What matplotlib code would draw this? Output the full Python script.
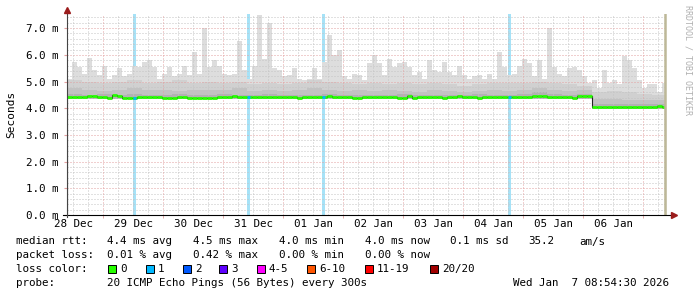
import numpy as np
import matplotlib
matplotlib.use('Agg')
import matplotlib.pyplot as plt
from matplotlib.patches import Rectangle

W, H = 697, 297
plt.rcParams['font.family'] = ['DejaVu Sans Mono']

# time in days since 28 Dec 00:00, smoke stored in 2 hour bins
t_start = 0.4
t_end = 10.4
t_now = 10.371
bin_days = 1 / 12

day_labels = ['28 Dec', '29 Dec', '30 Dec', '31 Dec', '01 Jan',
              '02 Jan', '03 Jan', '04 Jan', '05 Jan', '06 Jan']
y_ticks = [0, 1, 2, 3, 4, 5, 6, 7]
y_labels = ['0.0 m', '1.0 m', '2.0 m', '3.0 m', '4.0 m', '5.0 m', '6.0 m', '7.0 m']

# top of the smoke (slowest ping), ms, per 2h bin
smoke_max = [
    5.1, 5.75, 5.55, 5.3, 5.9, 5.45, 5.25, 5.6, 5.1, 5.25,
    5.5, 5.2, 5.3, 5.6, 5.55, 5.75, 5.8, 5.55, 5.1, 5.3,
    5.55, 5.2, 5.3, 5.6, 5.25, 6.1, 5.3, 7.0, 5.55, 5.8,
    5.6, 5.3, 5.25, 5.3, 6.5, 5.45, 5.1, 5.6, 7.5, 5.85,
    7.2, 5.5, 5.45, 5.2, 5.25, 5.5, 5.1, 5.05, 5.1, 5.5,
    5.1, 5.75, 6.75, 6.0, 6.2, 5.2, 5.1, 5.3, 5.25, 5.05,
    5.7, 6.0, 5.7, 5.25, 5.85, 5.55, 5.7, 5.75, 5.55, 5.25,
    5.35, 5.1, 5.8, 5.45, 5.35, 5.75, 5.35, 5.25, 5.6, 5.25,
    5.1, 5.2, 5.25, 5.1, 5.3, 5.1, 6.1, 5.55, 5.25, 5.3,
    5.6, 5.85, 5.7, 5.2, 5.8, 5.1, 7.0, 5.55, 5.3, 5.2,
    5.5, 5.55, 5.45, 5.2, 4.95, 5.05, 4.75, 5.45, 4.95, 5.05,
    4.9, 5.95, 5.8, 5.5, 5.05, 4.75, 4.9, 4.9, 4.6, 4.95,
]

# inner smoke layers, ms, per 6h block
smoke_p85 = [
    5.05, 5.0, 4.95, 5.0, 5.05, 4.95, 5.0, 5.05, 4.95, 5.0,
    4.95, 5.0, 4.9, 4.95, 4.9, 4.95, 5.05, 5.0, 4.95, 4.9,
    4.95, 4.9, 4.95, 4.9, 4.95, 4.9, 4.85, 4.9, 4.95, 4.95,
    4.95, 5.0, 4.95, 4.9, 4.85, 4.6, 4.65, 4.6, 4.55, 4.5,
]
smoke_p70 = [
    4.75, 4.7, 4.65, 4.7, 4.75, 4.7, 4.7, 4.65, 4.7, 4.7,
    4.7, 4.75, 4.65, 4.7, 4.65, 4.7, 4.75, 4.7, 4.65, 4.7,
    4.65, 4.7, 4.65, 4.6, 4.7, 4.65, 4.6, 4.65, 4.7, 4.65,
    4.7, 4.75, 4.7, 4.65, 4.7, 4.35, 4.35, 4.3, 4.3, 4.3,
]
smoke_p55 = [
    4.55, 4.5, 4.55, 4.5, 4.55, 4.5, 4.5, 4.55, 4.5, 4.5,
    4.55, 4.5, 4.5, 4.55, 4.5, 4.5, 4.5, 4.55, 4.5, 4.5,
    4.5, 4.5, 4.55, 4.5, 4.5, 4.5, 4.5, 4.55, 4.5, 4.5,
    4.55, 4.6, 4.55, 4.5, 4.55, 4.15, 4.15, 4.15, 4.15, 4.15,
]
smoke_min = [
    4.34, 4.34, 4.34, 4.34, 4.34, 4.34, 4.34, 4.34, 4.34, 4.34,
    4.34, 4.34, 4.34, 4.34, 4.34, 4.34, 4.34, 4.34, 4.34, 4.34,
    4.34, 4.34, 4.34, 4.34, 4.34, 4.34, 4.34, 4.34, 4.34, 4.34,
    4.34, 4.34, 4.34, 4.34, 4.34, 3.98, 3.98, 3.98, 3.98, 3.98,
]

# median rtt, ms, per 2h bin
median = [
    4.43, 4.43, 4.43, 4.43, 4.44, 4.44, 4.43, 4.41, 4.40, 4.48,
    4.46, 4.40, 4.40, 4.40, 4.41, 4.42, 4.42, 4.42, 4.42, 4.39,
    4.39, 4.40, 4.41, 4.41, 4.40, 4.39, 4.39, 4.38, 4.39, 4.39,
    4.42, 4.43, 4.42, 4.46, 4.42, 4.41, 4.41, 4.42, 4.42, 4.41,
    4.41, 4.42, 4.42, 4.41, 4.42, 4.42, 4.38, 4.41, 4.42, 4.42,
    4.41, 4.41, 4.44, 4.43, 4.42, 4.42, 4.41, 4.38, 4.40, 4.41,
    4.41, 4.41, 4.42, 4.42, 4.41, 4.41, 4.40, 4.40, 4.44, 4.38,
    4.43, 4.41, 4.41, 4.41, 4.41, 4.40, 4.41, 4.41, 4.44, 4.41,
    4.41, 4.41, 4.40, 4.41, 4.41, 4.41, 4.41, 4.41, 4.42, 4.42,
    4.42, 4.42, 4.42, 4.46, 4.47, 4.45, 4.43, 4.43, 4.43, 4.42,
    4.43, 4.38, 4.45, 4.45, 4.44, 4.05, 4.04, 4.05, 4.05, 4.04,
    4.05, 4.06, 4.06, 4.05, 4.05, 4.06, 4.05, 4.06, 4.07, 4.05,
]

# times (days) where 1 of 20 pings was lost
loss_times = [1.533, 3.417, 4.667, 7.783]

loss_names = ['0', '1', '2', '3', '4-5', '6-10', '11-19', '20/20']
loss_colors = ['#26ff00', '#00b8ff', '#0059ff', '#5e00ff',
               '#ff00ff', '#ff5500', '#ff0000', '#a10000']

fig = plt.figure(figsize=(W / 100, H / 100), dpi=100)
fig.patch.set_facecolor('white')
ax = fig.add_axes([67 / W, 82 / H, 600 / W, 201 / H])
ax.set_xlim(t_start, t_end)
ax.set_ylim(0, 7.53)

n = len(smoke_max)
edges = t_start + np.arange(n + 1) * bin_days
edges[-1] = t_now

# loss bars behind everything
for lt in loss_times:
    ax.axvspan(lt - 0.025, lt + 0.025, color='#a6e2f7', lw=0, zorder=1)

# smoke, outer to inner
lo = np.repeat(smoke_min, 3)
ax.stairs(smoke_max, edges, baseline=lo, fill=True, color='#dddddd', lw=0, zorder=2)
ax.stairs(np.repeat(smoke_p85, 3), edges, baseline=lo, fill=True, color='#d0d0d0', lw=0, zorder=3)
ax.stairs(np.repeat(smoke_p70, 3), edges, baseline=lo, fill=True, color='#c2c2c2', lw=0, zorder=4)
ax.stairs(np.repeat(smoke_p55, 3), edges, baseline=lo, fill=True, color='#b2b2b2', lw=0, zorder=5)

# grid
dots = (0, (1, 2))
for v in np.arange(0.2, 7.55, 0.2):
    if abs(v - round(v)) < 0.01:
        ax.axhline(v, color='#e3a0a0', lw=0.72, ls=dots, zorder=6)
    else:
        ax.axhline(v, color='#c4c4c4', lw=0.72, ls=dots, zorder=6)
for d in np.arange(0.5, 10.4, 0.25):
    if abs(d - round(d)) < 0.01:
        ax.axvline(d, color='#e3a0a0', lw=0.72, ls=dots, zorder=6)
    else:
        ax.axvline(d, color='#c4c4c4', lw=0.72, ls=dots, zorder=6)

# median line: dark steps, then coloured by loss
ax.stairs(median, edges, color='#222222', lw=0.8, zorder=7)
ax.hlines(median, edges[:-1], edges[1:], colors=loss_colors[0], lw=2.0, zorder=8)
for lt in loss_times:
    i = int((lt - t_start) / bin_days)
    ax.hlines(median[i], lt - 0.025, lt + 0.025, colors=loss_colors[1], lw=2.0, zorder=8)

# "now" marker
ax.axvline(t_now, color='#bdb898', lw=1.8, zorder=9)

# axes
for s in ax.spines.values():
    s.set_visible(False)
ax.plot([-0.006, 1.01], [0, 0], color='black', lw=0.8, transform=ax.transAxes, clip_on=False, zorder=10)
ax.plot([0, 0], [-0.012, 1.01], color='#444444', lw=0.8, transform=ax.transAxes, clip_on=False, zorder=10)
ax.plot([1.012], [0], marker='>', ms=4, color='#9b1c1c', transform=ax.transAxes, clip_on=False, zorder=11)
ax.plot([0], [1.02], marker='^', ms=4, color='#9b1c1c', transform=ax.transAxes, clip_on=False, zorder=11)

ax.set_xticks(np.arange(0.5, 10, 1.0))
ax.set_xticklabels(day_labels)
ax.tick_params(axis='x', length=0, pad=3, labelsize=7.8)
ax.set_xticks(np.arange(1, 11), minor=True)
ax.tick_params(axis='x', which='minor', length=2, color='#e3a0a0')
ax.set_yticks(y_ticks)
ax.set_yticklabels(y_labels)
ax.tick_params(axis='y', length=2, color='#e3a0a0', pad=4, labelsize=7.8)

fig.text(11 / W, 1 - 114 / H, 'Seconds', rotation=90, ha='center', va='center', fontsize=8)
fig.text(688 / W, 1 - 5 / H, 'RRDTOOL / TOBI OETIKER', rotation=270, ha='center', va='top',
         fontsize=6, color='#b0b0b0')


def ftext(x, y, s, **kw):
    fig.text(x / W, 1 - y / H, s, va='baseline', ha='left', fontsize=7.8, **kw)


ftext(16, 244.5, 'median rtt:')
for x, s in zip([107, 193, 279, 365, 450, 528, 579],
                ['4.4 ms avg', '4.5 ms max', '4.0 ms min', '4.0 ms now', '0.1 ms sd', '35.2', 'am/s']):
    ftext(x, 244.5, s)
ftext(16, 258.3, 'packet loss:')
for x, s in zip([107, 193, 279, 365], ['0.01 % avg', '0.42 % max', '0.00 % min', '0.00 % now']):
    ftext(x, 258.3, s)
ftext(16, 272, 'loss color:')
box_x = [108, 145.7, 182.7, 219.3, 256.7, 307.3, 365, 430]
for bx, name, c in zip(box_x, loss_names, loss_colors):
    fig.patches.append(Rectangle((bx / W, 1 - 272.5 / H), 8 / W, 8 / H, transform=fig.transFigure,
                                 facecolor=c, edgecolor='black', lw=0.7))
    ftext(bx + 12, 272, name)
ftext(16, 286, 'probe:')
ftext(107, 286, '20 ICMP Echo Pings (56 Bytes) every 300s')
ftext(513, 286, 'Wed Jan  7 08:54:30 2026')

fig.savefig('out.png', dpi=100, facecolor='white')
